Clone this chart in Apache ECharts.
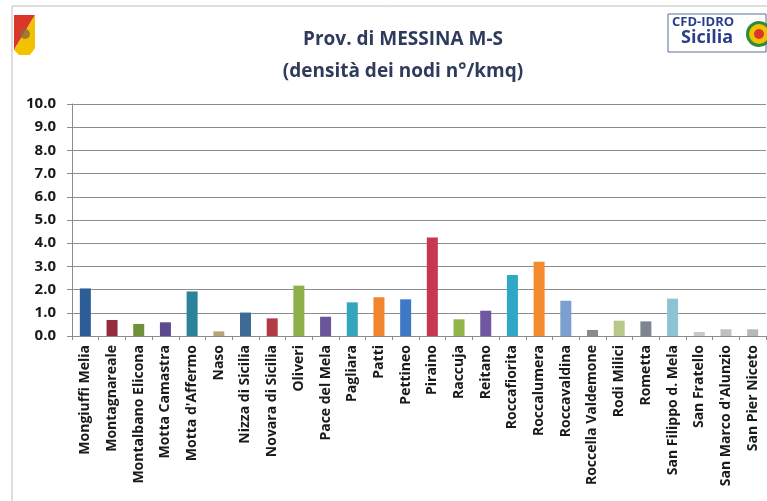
<!DOCTYPE html>
<html>
<head>
<meta charset="utf-8">
<script src="https://cdn.jsdelivr.net/npm/echarts@6/dist/echarts.min.js"></script>
<style>
  html, body { margin: 0; padding: 0; background: #fff; }
  #chart { width: 767px; height: 501px; }
</style>
</head>
<body>
<div id="chart"></div>
<script>
// comuni della provincia (M-S)
const comuni = [
  'Mongiuffi Melia', 'Montagnareale', 'Montalbano Elicona', 'Motta Camastra',
  "Motta d'Affermo", 'Naso', 'Nizza di Sicilia', 'Novara di Sicilia', 'Oliveri',
  'Pace del Mela', 'Pagliara', 'Patti', 'Pettineo', 'Piraino', 'Raccuja', 'Reitano',
  'Roccafiorita', 'Roccalumera', 'Roccavaldina', 'Roccella Valdemone', 'Rodi Milici',
  'Rometta', 'San Filippo d. Mela', 'San Fratello', "San Marco d'Alunzio", 'San Pier Niceto'
]

// densità dei nodi n°/kmq
const densita = [
  2.05, 0.69, 0.52, 0.59, 1.92, 0.20, 1.01, 0.76, 2.17,
  0.83, 1.45, 1.67, 1.58, 4.25, 0.72, 1.09,
  2.63, 3.20, 1.52, 0.26, 0.66,
  0.63, 1.61, 0.17, 0.29, 0.29
]

const colori = [
  '#2C5D96', '#952B3F', '#71903A', '#5C4A8C', '#2A8398', '#B8A47A', '#3E6A96', '#B23A44', '#8DB048',
  '#6A559A', '#35A4BD', '#F0852E', '#3E78C6', '#C8374F', '#93B448', '#7058A0',
  '#2FA8C8', '#F58A2C', '#7D9FCF', '#8A8A8A', '#B8C88A',
  '#7F8590', '#8DC4D4', '#C8C8C8', '#C0C0C0', '#B8B8B8'
]

const yTicks = { min: 0, max: 10, step: 1 }

const chart = echarts.init(document.getElementById('chart'))

const option = {
  backgroundColor: '#ffffff',
  animation: false,
  title: {
    text: 'Prov. di MESSINA M-S\n(densità dei nodi n°/kmq)',
    left: 398,
    top: 19,
    textAlign: 'center',
    textStyle: {
      fontFamily: 'Open Sans',
      fontWeight: 'bold',
      fontSize: 19,
      lineHeight: 32,
      color: '#2F3B5C'
    }
  },
  grid: {
    left: 72,
    top: 104,
    width: 694,
    height: 232
  },
  xAxis: {
    type: 'category',
    data: comuni,
    axisLine: { lineStyle: { color: '#8c8c8c' } },
    axisTick: { show: true, length: 4, lineStyle: { color: '#8c8c8c' } },
    axisLabel: {
      interval: 0,
      rotate: 90,
      margin: 9,
      fontFamily: 'Open Sans',
      fontWeight: 'bold',
      fontSize: 14,
      color: '#1a1a1a'
    }
  },
  yAxis: {
    type: 'value',
    min: yTicks.min,
    max: yTicks.max,
    interval: yTicks.step,
    axisLine: { show: true, lineStyle: { color: '#8c8c8c' } },
    axisTick: { show: true, length: 5, lineStyle: { color: '#8c8c8c' } },
    splitLine: { lineStyle: { color: '#8c8c8c', width: 1 } },
    axisLabel: {
      margin: 16,
      formatter: (v) => v.toFixed(1),
      fontFamily: 'Open Sans',
      fontWeight: 'bold',
      fontSize: 15,
      color: '#1a1a1a'
    }
  },
  series: [
    {
      type: 'bar',
      barWidth: 11,
      data: densita.map((v, i) => ({ value: v, itemStyle: { color: colori[i] } }))
    }
  ],
  graphic: [
    // cornice
    { type: 'line', shape: { x1: 12, y1: 6, x2: 767, y2: 6 }, style: { stroke: '#bdbdbd', lineWidth: 1 } },
    { type: 'line', shape: { x1: 12, y1: 6, x2: 12, y2: 501 }, style: { stroke: '#bdbdbd', lineWidth: 1 } },
    // stemma Regione Sicilia
    { type: 'polygon', shape: { points: [[14, 15], [35, 15], [14, 50]] }, style: { fill: '#D8372A' } },
    { type: 'polygon', shape: { points: [[35, 15], [35, 48], [30, 55], [19, 55], [14, 50]] }, style: { fill: '#F2C200' } },
    { type: 'circle', shape: { cx: 25, cy: 34, r: 5 }, style: { fill: '#8a6a3a', opacity: 0.8 } },
    // logo CFD-IDRO Sicilia
    { type: 'rect', shape: { x: 668, y: 14, width: 98, height: 38 }, style: { fill: '#ffffff', stroke: '#5a6a9a', lineWidth: 1 } },
    { type: 'text', style: { x: 672, y: 16, text: 'CFD-IDRO', fontFamily: 'Open Sans', fontWeight: 'bold', fontSize: 13, fill: '#2A3E8C' } },
    { type: 'text', style: { x: 681, y: 29, text: 'Sicilia', fontFamily: 'Open Sans', fontWeight: 'bold', fontSize: 18, fill: '#2A3E8C' } },
    { type: 'circle', shape: { cx: 759, cy: 34, r: 13 }, style: { fill: '#2E8B3E' } },
    { type: 'circle', shape: { cx: 759, cy: 34, r: 10 }, style: { fill: '#F2C200' } },
    { type: 'circle', shape: { cx: 759, cy: 34, r: 5 }, style: { fill: '#D8372A' } }
  ]
}

chart.setOption(option)
</script>
</body>
</html>
